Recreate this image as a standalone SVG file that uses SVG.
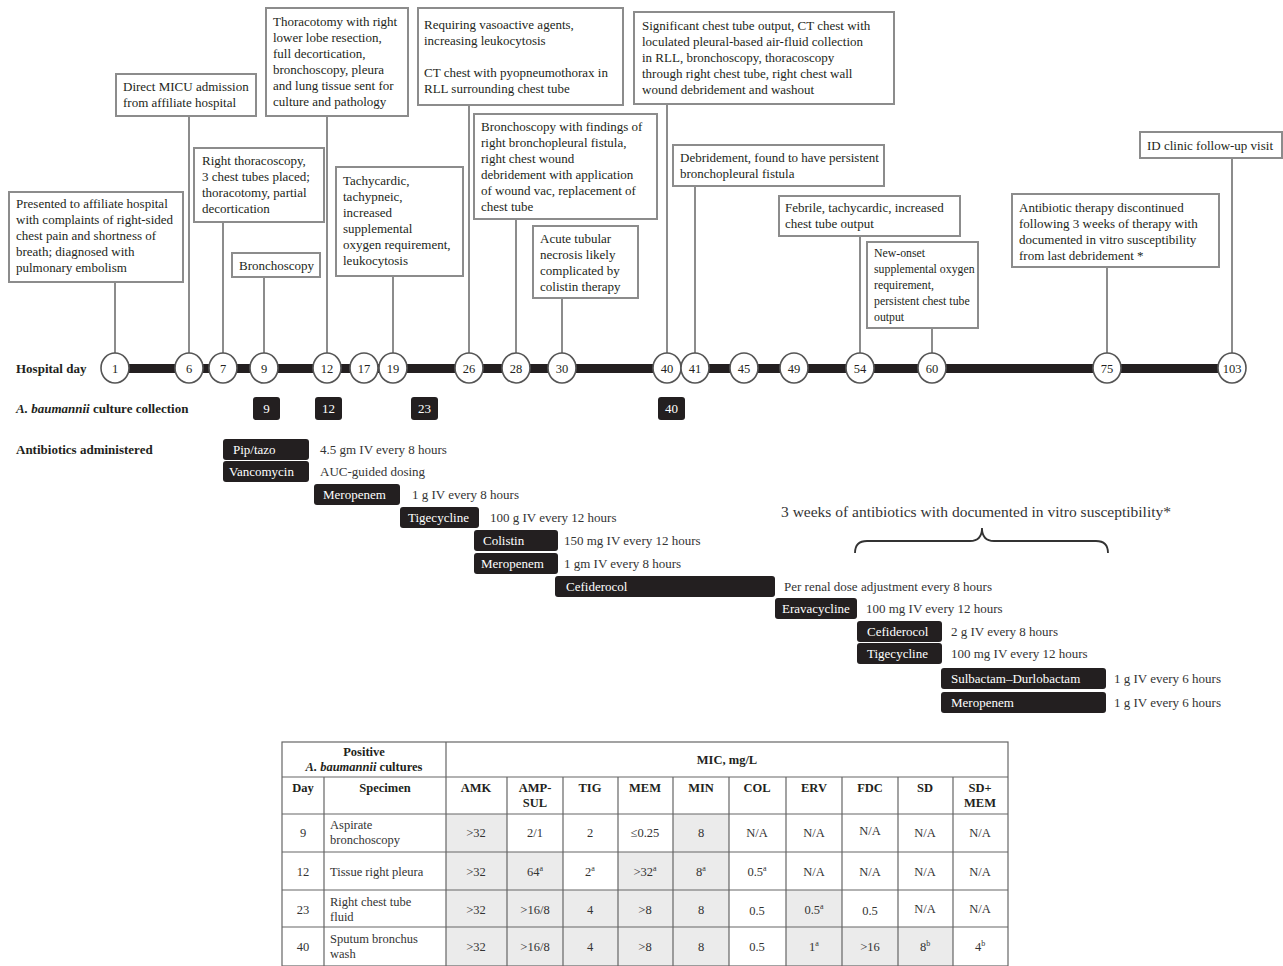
<svg xmlns="http://www.w3.org/2000/svg" width="1283" height="966" viewBox="0 0 1283 966">
<style>
.t{font-family:"Liberation Serif","Times New Roman",serif;font-size:13px;fill:#231f20}
.b{font-weight:bold}
.i{font-style:italic}
.box{fill:#fff;stroke:#8c8c8c;stroke-width:2}
.conn{stroke:#8c8c8c;stroke-width:2;fill:none}
.day{fill:#fff;stroke:#555;stroke-width:1.6}
.dn{font-family:"Liberation Serif","Times New Roman",serif;font-size:12.5px;fill:#231f20;text-anchor:middle}
.blk{fill:#231f20}
.wt{font-family:"Liberation Serif","Times New Roman",serif;font-size:13px;fill:#fff}
.dose{font-family:"Liberation Serif","Times New Roman",serif;font-size:13px;fill:#333}
.tc{font-family:"Liberation Serif","Times New Roman",serif;font-size:12.5px;fill:#333;text-anchor:middle}
.tl{font-family:"Liberation Serif","Times New Roman",serif;font-size:12.5px;fill:#333}
.th{font-family:"Liberation Serif","Times New Roman",serif;font-size:12.5px;fill:#231f20;font-weight:bold;text-anchor:middle}
.sh{fill:#ebebeb}
.grid{stroke:#666;stroke-width:1.2;fill:none}
.sup{font-size:8px}
</style>

<!-- connectors -->
<g id="connectors">
<line class="conn" x1="115" y1="282" x2="115" y2="354"/>
<line class="conn" x1="189" y1="116" x2="189" y2="354"/>
<line class="conn" x1="223" y1="222" x2="223" y2="354"/>
<line class="conn" x1="264" y1="277" x2="264" y2="354"/>
<line class="conn" x1="327" y1="116" x2="327" y2="354"/>
<line class="conn" x1="393" y1="276" x2="393" y2="354"/>
<line class="conn" x1="469" y1="105" x2="469" y2="354"/>
<line class="conn" x1="516" y1="219" x2="516" y2="354"/>
<line class="conn" x1="562" y1="298" x2="562" y2="354"/>
<line class="conn" x1="667" y1="104" x2="667" y2="354"/>
<line class="conn" x1="695" y1="186" x2="695" y2="354"/>
<line class="conn" x1="860" y1="236" x2="860" y2="354"/>
<line class="conn" x1="932" y1="328" x2="932" y2="354"/>
<line class="conn" x1="1107" y1="267" x2="1107" y2="354"/>
<line class="conn" x1="1232" y1="158" x2="1232" y2="354"/>
</g>

<!-- callouts -->
<g id="ev-day1">
<rect class="box" x="9" y="192" width="174" height="90"/>
<text class="t" x="16"><tspan x="16" y="207.5">Presented to affiliate hospital</tspan><tspan x="16" y="223.5">with complaints of right-sided</tspan><tspan x="16" y="239.5">chest pain and shortness of</tspan><tspan x="16" y="255.5">breath; diagnosed with</tspan><tspan x="16" y="271.5">pulmonary embolism</tspan></text>
</g>
<g id="ev-day6">
<rect class="box" x="116" y="74" width="140" height="42"/>
<text class="t"><tspan x="123" y="91">Direct MICU admission</tspan><tspan x="123" y="107">from affiliate hospital</tspan></text>
</g>
<g id="ev-day7">
<rect class="box" x="194" y="148" width="130" height="74"/>
<text class="t"><tspan x="202" y="165">Right thoracoscopy,</tspan><tspan x="202" y="181">3 chest tubes placed;</tspan><tspan x="202" y="197">thoracotomy, partial</tspan><tspan x="202" y="213">decortication</tspan></text>
</g>
<g id="ev-day9">
<rect class="box" x="232" y="253" width="88" height="24"/>
<text class="t" x="239" y="269.5">Bronchoscopy</text>
</g>
<g id="ev-day12">
<rect class="box" x="266" y="8" width="142" height="108"/>
<text class="t"><tspan x="273" y="26">Thoracotomy with right</tspan><tspan x="273" y="42">lower lobe resection,</tspan><tspan x="273" y="58">full decortication,</tspan><tspan x="273" y="74">bronchoscopy, pleura</tspan><tspan x="273" y="90">and lung tissue sent for</tspan><tspan x="273" y="106">culture and pathology</tspan></text>
</g>
<g id="ev-day19">
<rect class="box" x="336" y="167" width="127" height="109"/>
<text class="t"><tspan x="343" y="184.5">Tachycardic,</tspan><tspan x="343" y="200.5">tachypneic,</tspan><tspan x="343" y="216.5">increased</tspan><tspan x="343" y="232.5">supplemental</tspan><tspan x="343" y="248.5">oxygen requirement,</tspan><tspan x="343" y="264.5">leukocytosis</tspan></text>
</g>
<g id="ev-day26">
<rect class="box" x="418" y="8" width="205" height="97"/>
<text class="t"><tspan x="424" y="29">Requiring vasoactive agents,</tspan><tspan x="424" y="45">increasing leukocytosis</tspan><tspan x="424" y="77">CT chest with pyopneumothorax in</tspan><tspan x="424" y="93">RLL surrounding chest tube</tspan></text>
</g>
<g id="ev-day28">
<rect class="box" x="474" y="114" width="183" height="105"/>
<text class="t"><tspan x="481" y="130.5">Bronchoscopy with findings of</tspan><tspan x="481" y="146.5">right bronchopleural fistula,</tspan><tspan x="481" y="162.5">right chest wound</tspan><tspan x="481" y="178.5">debridement with application</tspan><tspan x="481" y="194.5">of wound vac, replacement of</tspan><tspan x="481" y="210.5">chest tube</tspan></text>
</g>
<g id="ev-day30">
<rect class="box" x="533" y="226" width="105" height="72"/>
<text class="t"><tspan x="540" y="242.5">Acute tubular</tspan><tspan x="540" y="258.5">necrosis likely</tspan><tspan x="540" y="274.5">complicated by</tspan><tspan x="540" y="290.5">colistin therapy</tspan></text>
</g>
<g id="ev-day40">
<rect class="box" x="634" y="12" width="260" height="92"/>
<text class="t"><tspan x="642" y="29.5">Significant chest tube output, CT chest with</tspan><tspan x="642" y="45.5">loculated pleural-based air-fluid collection</tspan><tspan x="642" y="61.5">in RLL, bronchoscopy, thoracoscopy</tspan><tspan x="642" y="77.5">through right chest tube, right chest wall</tspan><tspan x="642" y="93.5">wound debridement and washout</tspan></text>
</g>
<g id="ev-day41">
<rect class="box" x="673" y="145" width="211" height="41"/>
<text class="t"><tspan x="680" y="161.5">Debridement, found to have persistent</tspan><tspan x="680" y="177.5">bronchopleural fistula</tspan></text>
</g>
<g id="ev-day54">
<rect class="box" x="779" y="196" width="181" height="40"/>
<text class="t"><tspan x="785" y="211.5">Febrile, tachycardic, increased</tspan><tspan x="785" y="227.5">chest tube output</tspan></text>
</g>
<g id="ev-day60">
<rect class="box" x="867" y="242" width="111" height="86"/>
<text class="t" style="font-size:11.8px"><tspan x="874" y="256.5">New-onset</tspan><tspan x="874" y="272.5">supplemental oxygen</tspan><tspan x="874" y="288.5">requirement,</tspan><tspan x="874" y="304.5">persistent chest tube</tspan><tspan x="874" y="320.5">output</tspan></text>
</g>
<g id="ev-day75">
<rect class="box" x="1012" y="194" width="207" height="73"/>
<text class="t"><tspan x="1019" y="211.5">Antibiotic therapy discontinued</tspan><tspan x="1019" y="227.5">following 3 weeks of therapy with</tspan><tspan x="1019" y="243.5">documented in vitro susceptibility</tspan><tspan x="1019" y="259.5">from last debridement *</tspan></text>
</g>
<g id="ev-day103">
<rect class="box" x="1140" y="132" width="142" height="26"/>
<text class="t" x="1147" y="149.5">ID clinic follow-up visit</text>
</g>

<!-- timeline -->
<g id="timeline">
<text class="t b" x="16" y="372.5">Hospital day</text>
<rect class="blk" x="101" y="364" width="1132" height="9"/>
<g id="d1"><ellipse class="day" cx="115" cy="368" rx="14" ry="15"/><text class="dn" x="115" y="372.5">1</text></g>
<g id="d6"><ellipse class="day" cx="189" cy="368" rx="14" ry="15"/><text class="dn" x="189" y="372.5">6</text></g>
<g id="d7"><ellipse class="day" cx="223" cy="368" rx="14" ry="15"/><text class="dn" x="223" y="372.5">7</text></g>
<g id="d9"><ellipse class="day" cx="264" cy="368" rx="14" ry="15"/><text class="dn" x="264" y="372.5">9</text></g>
<g id="d12"><ellipse class="day" cx="327" cy="368" rx="14" ry="15"/><text class="dn" x="327" y="372.5">12</text></g>
<g id="d17"><ellipse class="day" cx="364" cy="368" rx="14" ry="15"/><text class="dn" x="364" y="372.5">17</text></g>
<g id="d19"><ellipse class="day" cx="393" cy="368" rx="14" ry="15"/><text class="dn" x="393" y="372.5">19</text></g>
<g id="d26"><ellipse class="day" cx="469" cy="368" rx="14" ry="15"/><text class="dn" x="469" y="372.5">26</text></g>
<g id="d28"><ellipse class="day" cx="516" cy="368" rx="14" ry="15"/><text class="dn" x="516" y="372.5">28</text></g>
<g id="d30"><ellipse class="day" cx="562" cy="368" rx="14" ry="15"/><text class="dn" x="562" y="372.5">30</text></g>
<g id="d40"><ellipse class="day" cx="667" cy="368" rx="14" ry="15"/><text class="dn" x="667" y="372.5">40</text></g>
<g id="d41"><ellipse class="day" cx="695" cy="368" rx="14" ry="15"/><text class="dn" x="695" y="372.5">41</text></g>
<g id="d45"><ellipse class="day" cx="744" cy="368" rx="14" ry="15"/><text class="dn" x="744" y="372.5">45</text></g>
<g id="d49"><ellipse class="day" cx="794" cy="368" rx="14" ry="15"/><text class="dn" x="794" y="372.5">49</text></g>
<g id="d54"><ellipse class="day" cx="860" cy="368" rx="14" ry="15"/><text class="dn" x="860" y="372.5">54</text></g>
<g id="d60"><ellipse class="day" cx="932" cy="368" rx="14" ry="15"/><text class="dn" x="932" y="372.5">60</text></g>
<g id="d75"><ellipse class="day" cx="1107" cy="368" rx="14" ry="15"/><text class="dn" x="1107" y="372.5">75</text></g>
<g id="d103"><ellipse class="day" cx="1232" cy="368" rx="14" ry="15"/><text class="dn" x="1232" y="372.5">103</text></g>
</g>

<!-- cultures -->
<g id="cultures">
<text class="t b" x="16" y="413"><tspan class="i">A. baumannii</tspan> culture collection</text>
<g id="c9"><rect class="blk" x="253" y="397" width="27" height="23" rx="3"/><text class="wt" x="266.5" y="413" text-anchor="middle">9</text></g>
<g id="c12"><rect class="blk" x="315" y="397" width="27" height="23" rx="3"/><text class="wt" x="328.5" y="413" text-anchor="middle">12</text></g>
<g id="c23"><rect class="blk" x="411" y="397" width="27" height="23" rx="3"/><text class="wt" x="424.5" y="413" text-anchor="middle">23</text></g>
<g id="c40"><rect class="blk" x="658" y="397" width="27" height="23" rx="3"/><text class="wt" x="671.5" y="413" text-anchor="middle">40</text></g>
</g>

<!-- antibiotics -->
<g id="antibiotics">
<text class="t b" x="16" y="454">Antibiotics administered</text>
<g id="ab1"><rect class="blk" x="223" y="439" width="86" height="21" rx="3"/><text class="wt" x="233" y="453.5">Pip/tazo</text><text class="dose" x="320" y="453.5">4.5 gm IV every 8 hours</text></g>
<g id="ab2"><rect class="blk" x="223" y="461" width="86" height="21" rx="3"/><text class="wt" x="229" y="475.5">Vancomycin</text><text class="dose" x="320" y="475.5">AUC-guided dosing</text></g>
<g id="ab3"><rect class="blk" x="314" y="484" width="86" height="21" rx="3"/><text class="wt" x="323" y="498.5">Meropenem</text><text class="dose" x="412" y="498.5">1 g IV every 8 hours</text></g>
<g id="ab4"><rect class="blk" x="400" y="507" width="79" height="21" rx="3"/><text class="wt" x="408" y="521.5">Tigecycline</text><text class="dose" x="490" y="521.5">100 g IV every 12 hours</text></g>
<g id="ab5"><rect class="blk" x="474" y="530" width="84" height="21" rx="3"/><text class="wt" x="483" y="544.5">Colistin</text><text class="dose" x="564" y="544.5">150 mg IV every 12 hours</text></g>
<g id="ab6"><rect class="blk" x="474" y="553" width="84" height="21" rx="3"/><text class="wt" x="481" y="567.5">Meropenem</text><text class="dose" x="564" y="567.5">1 gm IV every 8 hours</text></g>
<g id="ab7"><rect class="blk" x="555" y="576" width="220" height="21" rx="3"/><text class="wt" x="566" y="590.5">Cefiderocol</text><text class="dose" x="784" y="590.5">Per renal dose adjustment every 8 hours</text></g>
<g id="ab8"><rect class="blk" x="775" y="598" width="82" height="21" rx="3"/><text class="wt" x="782" y="612.5">Eravacycline</text><text class="dose" x="866" y="612.5">100 mg IV every 12 hours</text></g>
<g id="ab9"><rect class="blk" x="857" y="621" width="85" height="21" rx="3"/><text class="wt" x="867" y="635.5">Cefiderocol</text><text class="dose" x="951" y="635.5">2 g IV every 8 hours</text></g>
<g id="ab10"><rect class="blk" x="857" y="643" width="85" height="21" rx="3"/><text class="wt" x="867" y="657.5">Tigecycline</text><text class="dose" x="951" y="657.5">100 mg IV every 12 hours</text></g>
<g id="ab11"><rect class="blk" x="941" y="668" width="165" height="21" rx="3"/><text class="wt" x="951" y="682.5">Sulbactam–Durlobactam</text><text class="dose" x="1114" y="682.5">1 g IV every 6 hours</text></g>
<g id="ab12"><rect class="blk" x="941" y="692" width="165" height="21" rx="3"/><text class="wt" x="951" y="706.5">Meropenem</text><text class="dose" x="1114" y="706.5">1 g IV every 6 hours</text></g>
</g>

<!-- brace -->
<g id="brace">
<text class="dose" x="781" y="517" style="font-size:15.5px">3 weeks of antibiotics with documented in vitro susceptibility*</text>
<path d="M855,553 Q855,541 867,541 L970,541 Q982,541 982,528 Q982,541 994,541 L1096,541 Q1108,541 1108,553" fill="none" stroke="#333" stroke-width="1.8"/>
</g>

<!-- table -->
<g id="mic-table">
<rect class="sh" x="446" y="814" width="61" height="38"/>
<rect class="sh" x="673" y="814" width="56" height="38"/>
<rect class="sh" x="446" y="852" width="117" height="38"/>
<rect class="sh" x="618" y="852" width="111" height="38"/>
<rect class="sh" x="446" y="890" width="283" height="37"/>
<rect class="sh" x="786" y="890" width="56" height="37"/>
<rect class="sh" x="446" y="927" width="283" height="39"/>
<rect class="sh" x="786" y="927" width="167" height="39"/>
<rect class="grid" x="282" y="742" width="726" height="224"/>
<path class="grid" d="M282,777H1008M282,814H1008M282,852H1008M282,890H1008M282,927H1008M446,742V966M324,777V966M507,777V966M563,777V966M618,777V966M673,777V966M729,777V966M786,777V966M842,777V966M898,777V966M953,777V966"/>
<text class="th" x="364" y="756">Positive</text>
<text class="th" x="364" y="771"><tspan class="i">A. baumannii</tspan> cultures</text>
<text class="th" x="727" y="764">MIC, mg/L</text>
<text class="th" x="303" y="792">Day</text>
<text class="th" x="385" y="792">Specimen</text>
<text class="th" x="476" y="792">AMK</text>
<text class="th" x="535" y="792">AMP-</text>
<text class="th" x="535" y="807">SUL</text>
<text class="th" x="590" y="792">TIG</text>
<text class="th" x="645" y="792">MEM</text>
<text class="th" x="701" y="792">MIN</text>
<text class="th" x="757" y="792">COL</text>
<text class="th" x="814" y="792">ERV</text>
<text class="th" x="870" y="792">FDC</text>
<text class="th" x="925" y="792">SD</text>
<text class="th" x="980" y="792">SD+</text>
<text class="th" x="980" y="807">MEM</text>

<text class="tc" x="303" y="837">9</text>
<text class="tl"><tspan x="330" y="829">Aspirate</tspan><tspan x="330" y="844">bronchoscopy</tspan></text>
<text class="tc" x="476" y="837">&gt;32</text>
<text class="tc" x="535" y="837">2/1</text>
<text class="tc" x="590" y="837">2</text>
<text class="tc" x="645" y="837">≤0.25</text>
<text class="tc" x="701" y="837">8</text>
<text class="tc" x="757" y="837">N/A</text>
<text class="tc" x="814" y="837">N/A</text>
<text class="tc" x="870" y="835">N/A</text>
<text class="tc" x="925" y="837">N/A</text>
<text class="tc" x="980" y="837">N/A</text>

<text class="tc" x="303" y="875.5">12</text>
<text class="tl" x="330" y="875.5">Tissue right pleura</text>
<text class="tc" x="476" y="875.5">&gt;32</text>
<text class="tc" x="535" y="875.5">64<tspan class="sup" dy="-5">a</tspan></text>
<text class="tc" x="590" y="875.5">2<tspan class="sup" dy="-5">a</tspan></text>
<text class="tc" x="645" y="875.5">&gt;32<tspan class="sup" dy="-5">a</tspan></text>
<text class="tc" x="701" y="875.5">8<tspan class="sup" dy="-5">a</tspan></text>
<text class="tc" x="757" y="875.5">0.5<tspan class="sup" dy="-5">a</tspan></text>
<text class="tc" x="814" y="875.5">N/A</text>
<text class="tc" x="870" y="875.5">N/A</text>
<text class="tc" x="925" y="875.5">N/A</text>
<text class="tc" x="980" y="875.5">N/A</text>

<text class="tc" x="303" y="913.5">23</text>
<text class="tl"><tspan x="330" y="906">Right chest tube</tspan><tspan x="330" y="921">fluid</tspan></text>
<text class="tc" x="476" y="913.5">&gt;32</text>
<text class="tc" x="535" y="913.5">&gt;16/8</text>
<text class="tc" x="590" y="913.5">4</text>
<text class="tc" x="645" y="913.5">&gt;8</text>
<text class="tc" x="701" y="913.5">8</text>
<text class="tc" x="757" y="914.5">0.5</text>
<text class="tc" x="814" y="913.5">0.5<tspan class="sup" dy="-5">a</tspan></text>
<text class="tc" x="870" y="914.5">0.5</text>
<text class="tc" x="925" y="912.5">N/A</text>
<text class="tc" x="980" y="912.5">N/A</text>

<text class="tc" x="303" y="951">40</text>
<text class="tl"><tspan x="330" y="943">Sputum bronchus</tspan><tspan x="330" y="958">wash</tspan></text>
<text class="tc" x="476" y="951">&gt;32</text>
<text class="tc" x="535" y="951">&gt;16/8</text>
<text class="tc" x="590" y="951">4</text>
<text class="tc" x="645" y="951">&gt;8</text>
<text class="tc" x="701" y="951">8</text>
<text class="tc" x="757" y="951">0.5</text>
<text class="tc" x="814" y="951">1<tspan class="sup" dy="-5">a</tspan></text>
<text class="tc" x="870" y="951">&gt;16</text>
<text class="tc" x="925" y="951">8<tspan class="sup" dy="-5">b</tspan></text>
<text class="tc" x="980" y="951">4<tspan class="sup" dy="-5">b</tspan></text>
</g>
</svg>
